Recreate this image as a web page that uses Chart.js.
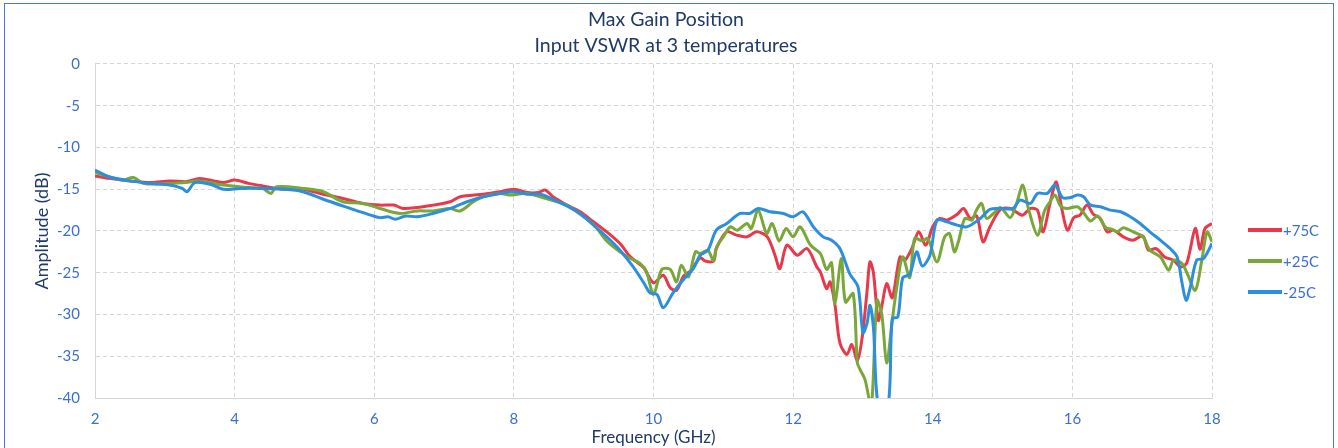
<!DOCTYPE html>
<html>
<head>
<meta charset="utf-8">
<script src="https://cdn.jsdelivr.net/npm/chart.js@4.4.1/dist/chart.umd.min.js"></script>
<style>
  html, body { margin: 0; padding: 0; background: #fff; }
  #wrap { position: absolute; left: 0; top: 0; width: 1338px; height: 448px; }
  #frame { position: absolute; left: 4px; top: 3px; width: 1330px; height: 460px; border: 1px solid #4a7bd0; box-sizing: border-box; pointer-events: none; }
</style>
</head>
<body>
<div id="wrap"><canvas id="chart" width="1338" height="448"></canvas></div>
<div id="frame"></div>
<script>
const titleLines = ['Max Gain Position', 'Input VSWR at 3 temperatures'];
const seriesLabels = ['+75C', '+25C', '-25C'];

// +75C
const redFreq = [2.0, 2.2, 2.5, 2.79, 3.07, 3.3, 3.5, 3.7, 3.84, 4.0, 4.2, 4.4, 4.7, 4.98, 5.27, 5.55, 5.84, 6.08, 6.28, 6.41, 6.61, 6.84, 7.09, 7.23, 7.56, 7.8, 8.0, 8.19, 8.35, 8.45, 8.56, 8.76, 8.95, 9.14, 9.33, 9.52, 9.67, 9.86, 10.0, 10.14, 10.24, 10.33, 10.43, 10.53, 10.67, 10.74, 10.86, 10.9, 11.05, 11.19, 11.34, 11.48, 11.63, 11.74, 11.81, 11.91, 12.06, 12.2, 12.34, 12.39, 12.48, 12.53, 12.6, 12.67, 12.77, 12.84, 12.92, 12.99, 13.06, 13.1, 13.15, 13.22, 13.27, 13.34, 13.42, 13.53, 13.6, 13.7, 13.8, 13.9, 14.0, 14.1, 14.2, 14.35, 14.44, 14.54, 14.63, 14.72, 14.82, 14.97, 15.11, 15.28, 15.4, 15.5, 15.58, 15.68, 15.77, 15.85, 15.93, 16.02, 16.11, 16.21, 16.3, 16.4, 16.5, 16.59, 16.73, 16.87, 17.01, 17.09, 17.2, 17.32, 17.45, 17.55, 17.64, 17.76, 17.83, 17.9, 18.0];
const redDb = [-13.4, -13.7, -14.0, -14.2, -14.0, -14.1, -13.7, -14.0, -14.2, -13.9, -14.3, -14.6, -15.0, -15.0, -15.6, -16.1, -16.7, -16.9, -16.9, -17.3, -17.2, -16.9, -16.5, -15.9, -15.6, -15.3, -15.0, -15.4, -15.4, -15.1, -15.9, -16.9, -17.7, -18.9, -20.1, -21.5, -23.1, -24.4, -26.2, -25.3, -26.8, -27.1, -25.4, -24.8, -23.2, -23.6, -23.6, -22.1, -20.1, -20.5, -20.7, -20.1, -20.7, -22.9, -24.5, -21.7, -22.9, -22.1, -24.3, -24.9, -26.9, -26.1, -28.9, -33.4, -34.8, -33.6, -35.5, -32.7, -27.1, -23.7, -25.0, -30.7, -29.0, -26.3, -28.0, -23.1, -23.5, -22.1, -20.1, -21.7, -19.5, -18.5, -18.7, -18.0, -17.3, -18.5, -18.2, -21.3, -19.5, -17.4, -17.3, -18.1, -17.3, -17.5, -20.1, -16.7, -14.1, -17.4, -19.9, -18.4, -18.1, -16.9, -18.0, -18.5, -20.1, -19.9, -20.7, -21.1, -20.6, -22.3, -22.1, -23.1, -23.5, -24.3, -23.8, -19.7, -22.2, -19.7, -19.1];

// +25C
const greenFreq = [2.0, 2.2, 2.4, 2.55, 2.7, 3.07, 3.3, 3.5, 3.84, 4.2, 4.4, 4.52, 4.6, 4.98, 5.27, 5.55, 5.84, 6.08, 6.37, 6.61, 6.84, 7.09, 7.23, 7.42, 7.56, 7.8, 7.95, 8.19, 8.45, 8.76, 8.95, 9.14, 9.33, 9.52, 9.67, 9.81, 9.9, 10.0, 10.12, 10.24, 10.33, 10.4, 10.5, 10.6, 10.67, 10.78, 10.86, 10.9, 11.0, 11.1, 11.2, 11.34, 11.4, 11.5, 11.62, 11.7, 11.8, 11.9, 12.0, 12.1, 12.25, 12.39, 12.48, 12.55, 12.6, 12.69, 12.75, 12.86, 12.92, 12.96, 13.03, 13.12, 13.2, 13.27, 13.34, 13.42, 13.48, 13.57, 13.67, 13.74, 13.85, 13.93, 14.06, 14.17, 14.24, 14.31, 14.37, 14.46, 14.56, 14.62, 14.7, 14.77, 14.87, 14.97, 15.11, 15.2, 15.29, 15.37, 15.5, 15.6, 15.68, 15.75, 15.83, 15.93, 16.07, 16.16, 16.26, 16.36, 16.48, 16.57, 16.64, 16.73, 16.87, 17.01, 17.11, 17.26, 17.38, 17.45, 17.57, 17.64, 17.76, 17.85, 17.93, 18.0];
const greenDb = [-13.0, -13.5, -13.9, -13.6, -14.3, -14.3, -14.2, -14.0, -14.5, -14.8, -14.9, -15.5, -14.7, -14.9, -15.3, -16.5, -16.7, -17.3, -17.9, -17.6, -17.6, -17.3, -17.6, -16.5, -15.9, -15.5, -15.7, -15.5, -16.1, -16.9, -18.0, -19.2, -21.2, -22.5, -23.3, -23.9, -24.9, -27.6, -24.6, -24.6, -26.1, -24.1, -25.5, -22.5, -22.7, -22.3, -23.6, -22.0, -20.7, -19.5, -19.9, -19.1, -19.7, -17.5, -20.3, -19.1, -21.2, -19.7, -20.7, -19.5, -21.7, -22.7, -24.6, -23.8, -28.7, -23.3, -28.5, -27.5, -35.8, -36.6, -37.8, -41.0, -28.3, -30.0, -35.8, -30.7, -27.0, -23.1, -25.6, -20.9, -21.2, -20.9, -23.7, -20.7, -20.3, -22.5, -21.2, -18.5, -18.7, -17.6, -16.7, -18.5, -17.9, -17.2, -18.4, -16.7, -14.5, -17.3, -20.5, -17.6, -16.5, -15.7, -17.0, -17.3, -17.1, -17.8, -18.8, -18.2, -19.6, -19.8, -20.1, -19.6, -20.1, -20.7, -22.3, -23.1, -24.7, -23.5, -23.9, -25.0, -27.1, -23.7, -20.1, -21.3];

// -25C
const blueFreq = [2.0, 2.2, 2.5, 2.8, 3.07, 3.25, 3.32, 3.43, 3.65, 3.84, 4.08, 4.4, 4.7, 4.98, 5.27, 5.55, 5.84, 6.08, 6.2, 6.3, 6.45, 6.61, 6.84, 7.09, 7.33, 7.56, 7.8, 8.0, 8.19, 8.38, 8.56, 8.76, 8.95, 9.14, 9.33, 9.52, 9.71, 9.86, 9.95, 10.05, 10.14, 10.28, 10.42, 10.57, 10.67, 10.78, 10.9, 11.05, 11.24, 11.38, 11.5, 11.67, 11.86, 12.0, 12.14, 12.29, 12.43, 12.55, 12.67, 12.81, 12.93, 13.0, 13.06, 13.1, 13.15, 13.22, 13.36, 13.42, 13.5, 13.57, 13.67, 13.77, 13.85, 13.96, 14.06, 14.2, 14.35, 14.49, 14.68, 14.82, 14.97, 15.15, 15.25, 15.4, 15.5, 15.64, 15.75, 15.86, 15.97, 16.07, 16.16, 16.26, 16.4, 16.54, 16.69, 16.83, 16.97, 17.11, 17.26, 17.4, 17.5, 17.57, 17.63, 17.69, 17.78, 17.88, 18.0];
const blueDb = [-12.7, -13.5, -14.0, -14.3, -14.5, -14.9, -15.3, -14.2, -14.4, -15.0, -14.9, -14.9, -15.0, -15.3, -16.2, -17.0, -17.8, -18.4, -18.3, -18.6, -18.2, -18.3, -17.9, -17.3, -16.5, -15.9, -15.5, -15.3, -15.6, -15.6, -16.2, -17.0, -17.9, -19.3, -20.7, -22.3, -24.3, -26.2, -27.4, -27.6, -29.2, -27.4, -25.9, -24.5, -22.9, -22.3, -19.9, -19.1, -17.9, -17.9, -17.3, -17.7, -17.9, -18.3, -17.7, -19.5, -20.7, -21.1, -22.1, -25.1, -26.7, -32.2, -31.0, -28.9, -31.5, -41.0, -41.0, -30.5, -30.3, -25.6, -25.2, -22.5, -24.2, -22.9, -18.7, -18.9, -19.3, -19.5, -18.5, -17.4, -17.3, -17.3, -16.3, -16.7, -15.5, -15.5, -14.5, -16.0, -16.0, -15.7, -15.9, -16.9, -17.1, -17.5, -17.7, -18.3, -19.1, -20.1, -21.1, -22.1, -23.1, -26.2, -28.3, -26.7, -23.5, -23.3, -21.5];

const seriesColors = ['#e8384a', '#7aa73a', '#2b8fde'];

const toPoints = (xs, ys) => xs.map((x, i) => ({ x: x, y: ys[i] }));

const tickBlue = '#3a6fd0';
const navy = '#1f3a6b';
const gridGray = '#d6d6d6';
const fontFamily = 'Lato, "Open Sans", sans-serif';

// legend drawn on the right, outside the plot
const sideLegend = {
  id: 'sideLegend',
  afterDraw(chart) {
    const ctx = chart.ctx;
    const x0 = chart.chartArea.right + 36;
    ctx.save();
    ctx.font = '15px ' + fontFamily;
    ctx.textBaseline = 'middle';
    chart.data.datasets.forEach((ds, i) => {
      const y = 230 + i * 31;
      ctx.strokeStyle = ds.borderColor;
      ctx.lineWidth = 4;
      ctx.beginPath();
      ctx.moveTo(x0, y);
      ctx.lineTo(x0 + 34, y);
      ctx.stroke();
      ctx.fillStyle = tickBlue;
      ctx.fillText(ds.label, x0 + 35, y + 1);
    });
    ctx.restore();
  }
};

const ctx = document.getElementById('chart').getContext('2d');
new Chart(ctx, {
  type: 'line',
  data: {
    datasets: [
      { label: seriesLabels[0], data: toPoints(redFreq, redDb), borderColor: seriesColors[0], order: 2 },
      { label: seriesLabels[1], data: toPoints(greenFreq, greenDb), borderColor: seriesColors[1], order: 1 },
      { label: seriesLabels[2], data: toPoints(blueFreq, blueDb), borderColor: seriesColors[2], order: 0 }
    ]
  },
  options: {
    responsive: false,
    animation: false,
    layout: { padding: { left: 0, right: 6, top: 0, bottom: 0 } },
    elements: {
      line: { borderWidth: 3, tension: 0.3, fill: false },
      point: { radius: 0 }
    },
    plugins: {
      legend: { display: false },
      tooltip: { enabled: false },
      title: {
        display: true,
        text: titleLines,
        color: navy,
        font: { family: fontFamily, size: 19.5, weight: 'normal', lineHeight: 1.333 },
        padding: { top: 7, bottom: 5 }
      }
    },
    scales: {
      x: {
        type: 'linear',
        min: 2,
        max: 18,
        afterFit: (scale) => { scale.height = 50; },
        ticks: { stepSize: 2, color: tickBlue, font: { family: fontFamily, size: 15 }, padding: 12, maxRotation: 0 },
        grid: { color: gridGray, drawTicks: false },
        border: { display: true, color: gridGray, dash: [4, 3] },
        title: {
          display: true,
          text: 'Frequency (GHz)',
          color: navy,
          font: { family: fontFamily, size: 17 },
          padding: { top: 0, bottom: 0 }
        }
      },
      y: {
        min: -40,
        max: 0,
        afterFit: (scale) => { scale.width = 95; },
        ticks: { stepSize: 5, color: tickBlue, font: { family: fontFamily, size: 15 }, padding: 15 },
        grid: { color: gridGray, drawTicks: false },
        border: { display: true, color: gridGray, dash: [4, 3] },
        title: {
          display: true,
          text: 'Amplitude (dB)',
          color: navy,
          font: { family: fontFamily, size: 18 },
          padding: { top: 31, bottom: 0 }
        }
      },
      // empty right-hand axis that keeps room for the legend
      yRoom: {
        type: 'linear',
        position: 'right',
        min: -40,
        max: 0,
        afterFit: (scale) => { scale.width = 120; },
        ticks: { display: false },
        grid: { display: false, drawTicks: false },
        border: { display: false }
      }
    }
  },
  plugins: [sideLegend]
});
</script>
</body>
</html>
